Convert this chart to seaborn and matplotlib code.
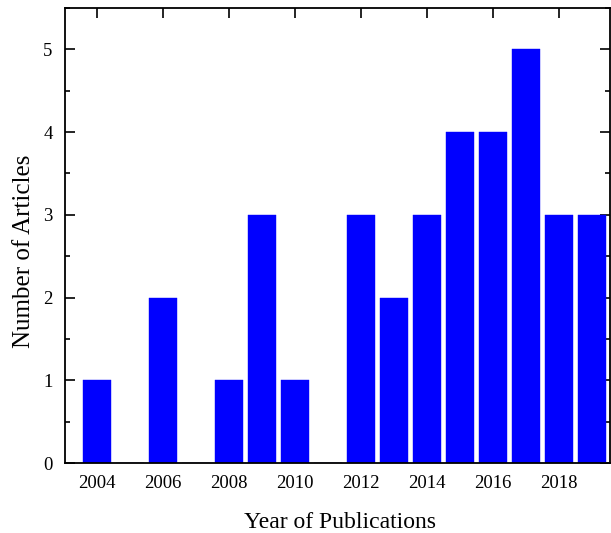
import numpy as np
import pandas as pd
import matplotlib
matplotlib.use("Agg")
import matplotlib.pyplot as plt
import seaborn as sns
from matplotlib.ticker import MultipleLocator

# articles per publication year
years = [2004, 2005, 2006, 2007, 2008, 2009, 2010, 2011,
         2012, 2013, 2014, 2015, 2016, 2017, 2018, 2019]
articles = [1, 0, 2, 0, 1, 3, 1, 0, 3, 2, 3, 4, 4, 5, 3, 3]

df = pd.DataFrame({"Year": years, "Articles": articles})

sns.set_style("ticks")
plt.rcParams['font.family'] = ['Liberation Serif', 'DejaVu Serif']
plt.rcParams['text.color'] = 'black'
plt.rcParams['axes.labelcolor'] = 'black'

fig = plt.figure(figsize=(6.11, 5.33), dpi=100)
ax = fig.add_axes([65 / 611, 1 - 463 / 533, (610 - 65) / 611, (463 - 8) / 533])

sns.barplot(data=df, x="Year", y="Articles", native_scale=True, width=0.85,
            color="#0000FF", saturation=1, edgecolor="#0000FF", linewidth=0.3, ax=ax)

ax.set_xlim(2003.03, 2019.55)
ax.set_ylim(0, 5.5)
ax.xaxis.set_major_locator(MultipleLocator(2))
ax.yaxis.set_major_locator(MultipleLocator(1))
ax.yaxis.set_minor_locator(MultipleLocator(0.5))

ax.tick_params(which="both", direction="in", top=True, right=True, labelsize=13.5, width=1.2,
               colors="black", labelcolor="black")
ax.tick_params(which="major", length=7, pad=9)
ax.tick_params(which="minor", length=3.5)
for s in ax.spines.values():
    s.set_linewidth(1.3)
    s.set_color("black")

ax.set_xlabel("Year of Publications", fontsize=17, va="center")
ax.set_ylabel("Number of Articles", fontsize=18, va="center")
ax.xaxis.set_label_coords(0.505, -0.13)
ax.yaxis.set_label_coords(-0.075, 0.466)

fig.savefig("out.png", dpi=100)
